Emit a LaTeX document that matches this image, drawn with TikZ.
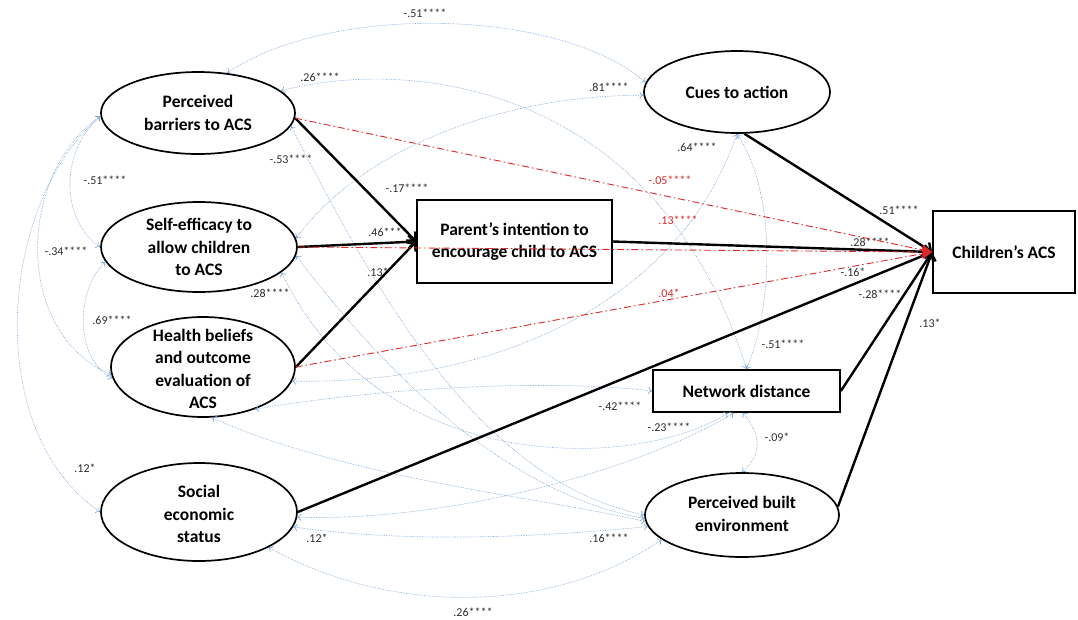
\documentclass[tikz,border=0pt]{standalone}
\usepackage{fontspec}
\setmainfont{Carlito}
\usetikzlibrary{arrows.meta,shapes.geometric}
\definecolor{covblue}{RGB}{128,166,215}
\definecolor{pathred}{RGB}{222,40,40}
\definecolor{lbl}{RGB}{45,45,45}
\begin{document}
\begin{tikzpicture}[x=1pt,y=-1pt,
  latent/.style={ellipse,draw,line width=1.7pt,inner sep=0pt},
  observed/.style={rectangle,draw,line width=1.7pt,inner sep=0pt},
  nodetext/.style={align=center,inner sep=0pt,font=\fontsize{17.5}{22.5}\selectfont\bfseries},
  coef/.style={inner sep=0pt,text=lbl,font=\fontsize{12}{14}\selectfont},
  redcoef/.style={coef,text=pathred},
  cov/.style={covblue,line width=0.65pt,densely dotted,
    {To[length=4pt,width=7pt]}-{To[length=4pt,width=7pt]}},
  causal/.style={line width=2.4pt,-{Straight Barb[length=6pt,width=13pt]}},
  direct/.style={pathred,line width=0.9pt,dash pattern=on 7pt off 3pt on 1.5pt off 3pt,
    -{Stealth[length=11pt,width=11pt]}}
]
\useasboundingbox (0,0) rectangle (1078,619);

% ---- variables ----
\node[latent,minimum width=194pt,minimum height=82pt] (B) at (198,113) {};
\node[nodetext] (Bt) at (B) {Perceived\\barriers to ACS};
\node[latent,minimum width=196pt,minimum height=90pt] (S) at (199,247) {};
\node[nodetext] (St) at (S) {Self-efficacy to\\allow children\\to ACS};
\node[latent,minimum width=184pt,minimum height=100pt] (H) at (203,367) {};
\node[nodetext] (Ht) at (203,369) {Health beliefs\\and outcome\\evaluation of\\ACS};
\node[latent,minimum width=196pt,minimum height=98pt] (E) at (199,512) {};
\node[nodetext] (Et) at (199,514) {Social\\economic\\status};
\node[observed,minimum width=195pt,minimum height=83pt] (Par) at (514.5,241.5) {};
\node[nodetext] (Part) at (Par) {Parent’s intention to\\encourage child to ACS};
\node[latent,minimum width=186pt,minimum height=82pt] (C) at (737,92) {};
\node[nodetext] (Ct) at (C) {Cues to action};
\node[observed,minimum width=142pt,minimum height=82pt] (Ch) at (1004,252) {};
\node[nodetext] (Cht) at (Ch) {Children’s ACS};
\node[observed,minimum width=187pt,minimum height=42pt] (N) at (746.5,391) {};
\node[nodetext] (Nt) at (N) {Network distance};
\node[latent,minimum width=194pt,minimum height=84pt] (P) at (742,515) {};
\node[nodetext] (Pt) at (742,514) {Perceived built\\environment};

% ---- covariances among exogenous variables ----
\draw[cov] (B.54) .. controls (330,3) and (560,8) .. (C.174);
\draw[cov] (B.15) .. controls (420,55) and (660,90) .. (N.north);
\draw[cov] (S.5) .. controls (360,150) and (500,95) .. (C.182);
\draw[cov] (B.182) .. controls (60,150) and (60,220) .. (S.180);
\draw[cov] (B.182) .. controls (20,170) and (10,330) .. (H.185);
\draw[cov] (S.189) .. controls (75,290) and (75,360) .. (H.187);
\draw[cov] (B.182) .. controls (0,200) and (-20,430) .. (E.180);
\draw[cov] (C.south) .. controls (775,190) and (775,300) .. (N.north);
\draw[cov] (C.south) .. controls (680,300) and (500,385) .. (H.-9);
\draw[cov] (B.-8) .. controls (380,300) and (480,480) .. (P.180);
\draw[cov] (S.-5) .. controls (420,420) and (540,500) .. (P.182);
\draw[cov] (S.-17) .. controls (380,480) and (640,470) .. (N.230);
\draw[cov] (H.-39) .. controls (400,385) and (560,380) .. (N.west);
\draw[cov] (H.-80) .. controls (350,480) and (560,500) .. (P.184);
\draw[cov] (E.-9) .. controls (420,545) and (560,535) .. (P.187);
\draw[cov] (E.-27) .. controls (400,620) and (560,610) .. (P.197);
\draw[cov] (E.-3) .. controls (450,522) and (640,470) .. (N.240);
\draw[cov] (N.260) .. controls (762,435) and (762,455) .. (P.north);

% ---- coefficients ----
\node[coef] (k1) at (425,13) {-.51****};
\node[coef] (k2) at (320,77) {.26****};
\node[coef] (k3) at (609,87) {.81****};
\node[coef] (k4) at (291,159) {-.53****};
\node[coef] (k5) at (105,180) {-.51****};
\node[coef] (k6) at (407,188) {-.17****};
\node[coef] (k7) at (388,232) {.46****};
\node[coef] (k8) at (66,251) {-.34****};
\node[coef] (k9) at (378,272) {.13*};
\node[coef] (k10) at (270,293) {.28****};
\node[coef] (k11) at (112,320) {.69****};
\node[coef] (k12) at (85,468) {.12*};
\node[coef] (k13) at (697,147) {.64****};
\node[coef] (k14) at (899,210) {.51****};
\node[coef] (k15) at (870,242) {.28****};
\node[coef] (k16) at (853,272) {-.16*};
\node[coef] (k17) at (880,294) {-.28****};
\node[coef] (k18) at (930,323) {.13*};
\node[coef] (k19) at (783,344) {-.51****};
\node[coef] (k20) at (620,406) {-.42****};
\node[coef] (k21) at (669,427) {-.23****};
\node[coef] (k22) at (777,437) {-.09*};
\node[coef] (k23) at (609,538) {.16****};
\node[coef] (k24) at (317,538) {.12*};
\node[coef] (k25) at (473,612) {.26****};
\node[redcoef] (r1) at (670,180) {-.05****};
\node[redcoef] (r2) at (678,220) {.13****};
\node[redcoef] (r3) at (669,293) {.04*};

% ---- structural paths ----
\draw[causal] (B.-3) -- (Par.west);
\draw[causal] (S.east) -- (Par.west);
\draw[causal] (H.east) -- (Par.west);
\draw[causal] (Par.east) -- (Ch.west);
\draw[causal] (C.-80) -- (Ch.west);
\draw[causal] (N.east) -- (Ch.west);
\draw[causal] (P.5) -- (Ch.west);
\draw[causal] (E.east) -- (Ch.west);

% ---- direct effects on children's ACS ----
\draw[direct] (B.-3) -- (Ch.west);
\draw[direct] (S.east) -- (Ch.west);
\draw[direct] (H.east) -- (Ch.west);
\end{tikzpicture}
\end{document}
